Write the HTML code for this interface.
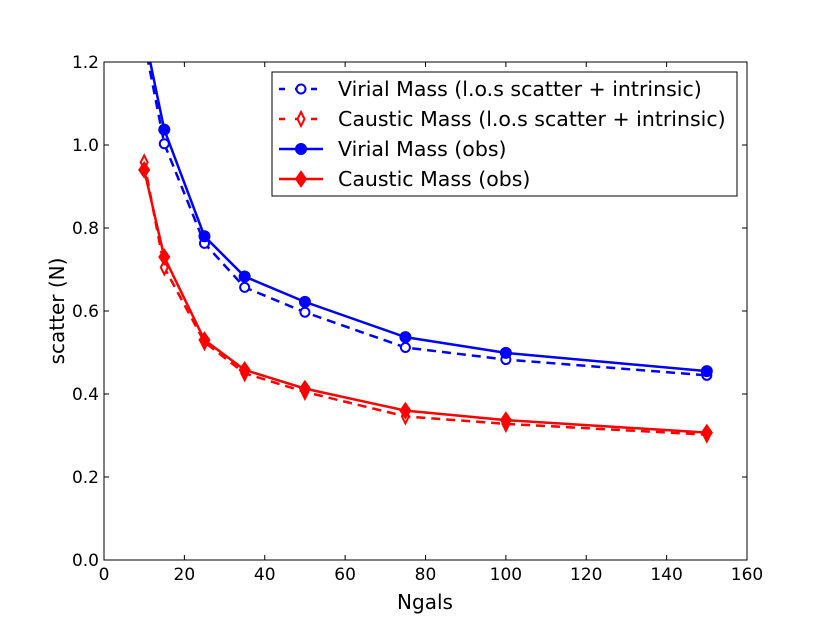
<!DOCTYPE html>
<html><head><meta charset="utf-8"><style>
body{margin:0;background:#fff}
svg text{font-family:"DejaVu Sans","Liberation Sans",sans-serif}
</style></head><body>
<svg id="chart" width="830" height="623" xmlns="http://www.w3.org/2000/svg">
<defs><clipPath id="clip"><rect x="104" y="62" width="643" height="498"/></clipPath></defs>
<g id="grid"></g>
<g id="series" clip-path="url(#clip)"></g>
<rect x="104" y="62" width="643" height="498" fill="none" stroke="#000" stroke-width="1"/>
<g id="ticks"></g>
<text x="425" y="609" font-size="20" text-anchor="middle">Ngals</text>
<text transform="translate(64,311) rotate(-90)" font-size="20" text-anchor="middle">scatter (N)</text>
<g id="legend">
<rect x="272" y="72" width="465" height="124" fill="#fff" stroke="#000" stroke-width="1"/>
</g>
</svg>
<script>
const xTicks=[0,20,40,60,80,100,120,140,160];
const yTicks=[0.0,0.2,0.4,0.6,0.8,1.0,1.2];
const ngals=[10,15,25,35,50,75,100,150];
const virialLos=[1.25,1.003,0.763,0.657,0.597,0.512,0.483,0.445];
const causticLos=[0.958,0.705,0.525,0.45,0.405,0.346,0.328,0.302];
const virialObs=[1.27,1.037,0.78,0.683,0.622,0.537,0.499,0.455];
const causticObs=[0.94,0.73,0.53,0.458,0.413,0.36,0.337,0.307];
const NS="http://www.w3.org/2000/svg";
const X=v=>104+v/160*643, Y=v=>560-v/1.2*498;
function mk(t,a,p){const e=document.createElementNS(NS,t);for(const k in a)e.setAttribute(k,a[k]);p.appendChild(e);return e;}
const tk=document.getElementById('ticks');
xTicks.forEach(v=>{const x=X(v);
 let l=mk('line',{x1:x,x2:x,y1:560,y2:555,stroke:'#000'},tk);
 
 
 mk('line',{x1:x,x2:x,y1:62,y2:67,stroke:'#000'},tk);
 let t=mk('text',{x:x,y:580,'font-size':17,'text-anchor':'middle'},tk);t.textContent=v;
 
 });
yTicks.forEach(v=>{const y=Y(v);
 let l=mk('line',{x1:104,x2:109,y1:y,y2:y,stroke:'#000'},tk);
 
 
 mk('line',{x1:747,x2:742,y1:y,y2:y,stroke:'#000'},tk);
 let t=mk('text',{x:99,y:y+6,'font-size':17,'text-anchor':'end'},tk);t.textContent=v.toFixed(1);
 
 });
const sg=document.getElementById('series');
function marker(g,x,y,type,color,filled){
 let m;
 if(type==='o') m=mk('circle',{cx:x,cy:y,r:filled?5.5:4.5,fill:filled?color:'#fff',stroke:color,'stroke-width':filled?1:2},g);
 else {const w=filled?5.5:3.5,h=filled?8:7;m=mk('polygon',{points:`${x},${y-h} ${x+w},${y} ${x},${y+h} ${x-w},${y}`,fill:filled?color:'#fff',stroke:color,'stroke-width':filled?1:2},g);}
 return m;}
function series(name,vals,color,dash,type,filled){
 const g=mk('g',{},sg);
 
 
 const pts=ngals.map((n,i)=>X(n)+','+Y(vals[i])).join(' ');
 const a={points:pts,fill:'none',stroke:color,'stroke-width':2.5};
 if(dash)a['stroke-dasharray']='9,6';
 mk('polyline',a,g);
 ngals.forEach((n,i)=>{const m=marker(g,X(n),Y(vals[i]),type,color,filled);
  
  });
}
series('virial-los-series',virialLos,'#0000ff',true,'o',false);
series('caustic-los-series',causticLos,'#ff0000',true,'d',false);
series('virial-obs-series',virialObs,'#0000ff',false,'o',true);
series('caustic-obs-series',causticObs,'#ff0000',false,'d',true);
const lg=document.getElementById('legend');
[['Virial Mass (l.o.s scatter + intrinsic)','#0000ff',true,'o',false],
 ['Caustic Mass (l.o.s scatter + intrinsic)','#ff0000',true,'d',false],
 ['Virial Mass (obs)','#0000ff',false,'o',true],
 ['Caustic Mass (obs)','#ff0000',false,'d',true]].forEach((r,i)=>{
 const y=89+i*30;
 const g=mk('g',{},lg);
 
 
 const a={x1:279,x2:323,y1:y,y2:y,stroke:r[1],'stroke-width':2.5};
 if(r[2])a['stroke-dasharray']='6,10';
 mk('line',a,g);
 marker(g,301,y,r[3],r[1],r[4]);
 const t=mk('text',{x:338,y:y+7,'font-size':20.5},g);t.textContent=r[0];
});
</script>
</body></html>
